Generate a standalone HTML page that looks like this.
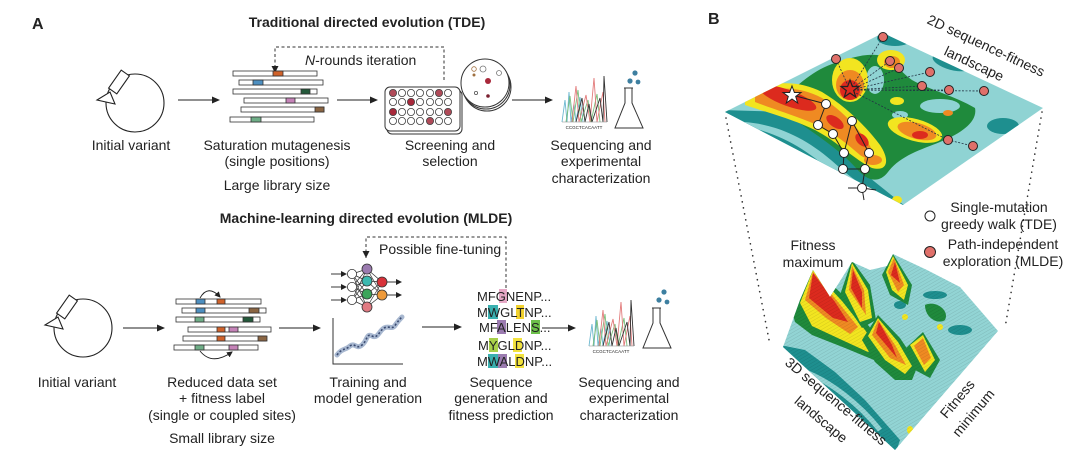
<!DOCTYPE html>
<html><head><meta charset="utf-8"><style>
html,body{margin:0;padding:0;background:#fff;}
svg{display:block;}
text{font-family:"Liberation Sans",Arial,sans-serif;fill:#222;}
</style></head><body>
<svg width="1080" height="459" viewBox="0 0 1080 459" xmlns="http://www.w3.org/2000/svg">
<defs>
<marker id="ah" markerWidth="8" markerHeight="8" refX="7" refY="4" orient="auto" markerUnits="userSpaceOnUse"><path d="M0,0.5 L8,4 L0,7.5 z" fill="#222"/></marker>
<marker id="sa" markerWidth="6" markerHeight="6" refX="5" refY="3" orient="auto" markerUnits="userSpaceOnUse"><path d="M0,0 L6,3 L0,6 z" fill="#222"/></marker>
<clipPath id="map"><polygon points="725,112 883,33 1043,108 903,205"/></clipPath>
<clipPath id="land"><polygon points="783,347 800,300 813,270 830,297 852,262 870,270 887,266 893,254 927,270 960,287 998,331 895,450"/></clipPath>
<pattern id="str" width="4" height="3" patternUnits="userSpaceOnUse" patternTransform="rotate(-30)"><line x1="0" y1="0" x2="4" y2="0" stroke="#000" stroke-opacity="0.12" stroke-width="1"/></pattern>
</defs>

<!-- ============ PANEL A ============ -->
<text x="32" y="29" font-size="16" font-weight="bold">A</text>
<text x="367" y="27" font-size="14" font-weight="bold" text-anchor="middle">Traditional directed evolution (TDE)</text>

<polyline points="275,68 275,47 444,47 444,80" fill="none" stroke="#333" stroke-width="1" stroke-dasharray="3,2.5"/>
<path d="M271.5,66 L278.5,66 L275,73 z" fill="#222"/>
<text x="305" y="65" font-size="14"><tspan font-style="italic">N</tspan>-rounds iteration</text>

<circle cx="135" cy="103" r="29" fill="none" stroke="#222" stroke-width="1.1"/>
<g transform="translate(119,82) rotate(-55)"><rect x="-11" y="-5" width="22" height="10" fill="#fff" stroke="#222" stroke-width="1.1"/></g>
<polygon points="97,100 110,92 115,104" fill="#fff" stroke="#222" stroke-width="1.1"/>
<line x1="178" y1="100" x2="219" y2="100" stroke="#222" stroke-width="1.1" marker-end="url(#ah)"/>

<g stroke="#333" stroke-width="0.8">
<rect x="233" y="71" width="84" height="5" fill="#fff"/><rect x="273" y="71" width="10" height="5" fill="#d0622a"/>
<rect x="239" y="80" width="84" height="5" fill="#fff"/><rect x="253" y="80" width="10" height="5" fill="#4d8fc0"/>
<rect x="233" y="89" width="84" height="5" fill="#fff"/><rect x="301" y="89" width="9" height="5" fill="#23583a"/>
<rect x="244" y="98" width="84" height="5" fill="#fff"/><rect x="286" y="98" width="9" height="5" fill="#c583b8"/>
<rect x="241" y="107" width="83" height="5" fill="#fff"/><rect x="315" y="107" width="9" height="5" fill="#8a6542"/>
<rect x="230" y="117" width="84" height="5" fill="#fff"/><rect x="251" y="117" width="10" height="5" fill="#6fae87"/>
</g>
<line x1="337" y1="100" x2="377" y2="100" stroke="#222" stroke-width="1.1" marker-end="url(#ah)"/>

<rect x="387" y="90" width="75" height="44" rx="5" fill="#fff" stroke="#333" stroke-width="1"/>
<rect x="385" y="87" width="75" height="44" rx="5" fill="#fff" stroke="#333" stroke-width="1"/>
<g stroke="#444" stroke-width="0.8">
<circle cx="393" cy="93" r="3.6" fill="#b04a58"/><circle cx="402" cy="93" r="3.6" fill="#fff"/><circle cx="411" cy="93" r="3.6" fill="#fff"/><circle cx="420" cy="93" r="3.6" fill="#fff"/><circle cx="430" cy="93" r="3.6" fill="#fff"/><circle cx="439" cy="93" r="3.6" fill="#b04a58"/><circle cx="448" cy="93" r="3.6" fill="#fff"/>
<circle cx="393" cy="102" r="3.6" fill="#fff"/><circle cx="402" cy="102" r="3.6" fill="#fff"/><circle cx="411" cy="102" r="3.6" fill="#a8283a"/><circle cx="420" cy="102" r="3.6" fill="#fff"/><circle cx="430" cy="102" r="3.6" fill="#fff"/><circle cx="439" cy="102" r="3.6" fill="#fff"/><circle cx="448" cy="102" r="3.6" fill="#fff"/>
<circle cx="393" cy="112" r="3.6" fill="#a8283a"/><circle cx="402" cy="112" r="3.6" fill="#fff"/><circle cx="411" cy="112" r="3.6" fill="#fff"/><circle cx="420" cy="112" r="3.6" fill="#fff"/><circle cx="430" cy="112" r="3.6" fill="#fff"/><circle cx="439" cy="112" r="3.6" fill="#fff"/><circle cx="448" cy="112" r="3.6" fill="#b04a58"/>
<circle cx="393" cy="121" r="3.6" fill="#fff"/><circle cx="402" cy="121" r="3.6" fill="#fff"/><circle cx="411" cy="121" r="3.6" fill="#fff"/><circle cx="420" cy="121" r="3.6" fill="#fff"/><circle cx="430" cy="121" r="3.6" fill="#b04a58"/><circle cx="439" cy="121" r="3.6" fill="#fff"/><circle cx="448" cy="121" r="3.6" fill="#fff"/>
</g>
<circle cx="487" cy="87" r="24" fill="#fff" stroke="#333" stroke-width="1"/>
<circle cx="486" cy="85" r="24" fill="#fff" stroke="#333" stroke-width="1"/>
<circle cx="485" cy="83" r="24" fill="#fff" stroke="#333" stroke-width="1"/>
<g stroke-width="0.8"><circle cx="474" cy="69" r="2.3" fill="none" stroke="#a07040"/><circle cx="483" cy="69" r="3" fill="none" stroke="#777"/><circle cx="474" cy="75" r="1.5" fill="#a07040"/><circle cx="499" cy="73" r="2.5" fill="none" stroke="#777"/><circle cx="488" cy="81" r="3" fill="#a8283a"/><circle cx="476" cy="93" r="1.6" fill="none" stroke="#555"/><circle cx="488" cy="96" r="1.8" fill="#7a2030"/></g>
<line x1="512" y1="100" x2="552" y2="100" stroke="#222" stroke-width="1.1" marker-end="url(#ah)"/>

<g fill="none" stroke-width="0.9">
<polyline stroke="#6ab7cf" points="562,122 565,100 567,122 569,92 571,122 574,104 576,122 580,97 583,122"/>
<polyline stroke="#7bbf7b" points="566,122 570,96 573,122 578,90 581,122 588,100 591,122 597,94 600,122"/>
<polyline stroke="#e27b7b" points="572,122 576,86 579,122 586,95 590,122 594,78 597,122 603,92 605,122"/>
<polyline stroke="#333" points="576,122 582,98 585,122 589,104 592,122 600,98 603,122 604,76 607,122"/>
<line x1="562" y1="122" x2="607" y2="122" stroke="#888" stroke-width="0.6"/>
</g>
<text x="584" y="129" font-size="4.5" text-anchor="middle" fill="#555">CCGCTCACAATT</text>
<path d="M624,88 L633,88 M625,88 L625,103 L615,128 L643,128 L632,103 L632,88" fill="none" stroke="#333" stroke-width="1"/>
<circle cx="635" cy="73" r="2.6" fill="#3d7fa0"/><circle cx="630" cy="81" r="2.6" fill="#3d7fa0"/><circle cx="638" cy="82" r="2.4" fill="#3d7fa0"/>

<g font-size="14" text-anchor="middle">
<text x="131" y="150">Initial variant</text>
<text x="277" y="150">Saturation mutagenesis</text>
<text x="277" y="166">(single positions)</text>
<text x="277" y="190">Large library size</text>
<text x="450" y="150">Screening and</text>
<text x="450" y="166">selection</text>
<text x="601" y="150">Sequencing and</text>
<text x="601" y="166">experimental</text>
<text x="601" y="183">characterization</text>
</g>

<!-- ===== MLDE ===== -->
<text x="366" y="223" font-size="14" font-weight="bold" text-anchor="middle">Machine-learning directed evolution (MLDE)</text>
<polyline points="366,258 366,237 506,237 506,290" fill="none" stroke="#333" stroke-width="1" stroke-dasharray="3,2.5"/>
<path d="M362.5,251 L369.5,251 L366,258 z" fill="#222"/>
<text x="379" y="254" font-size="14">Possible fine-tuning</text>

<circle cx="83" cy="328" r="29" fill="none" stroke="#222" stroke-width="1.1"/>
<g transform="translate(67,307) rotate(-55)"><rect x="-11" y="-5" width="22" height="10" fill="#fff" stroke="#222" stroke-width="1.1"/></g>
<polygon points="45,325 58,317 63,329" fill="#fff" stroke="#222" stroke-width="1.1"/>
<line x1="123" y1="328" x2="164" y2="328" stroke="#222" stroke-width="1.1" marker-end="url(#ah)"/>

<g stroke="#333" stroke-width="0.8">
<rect x="176" y="299" width="85" height="5" fill="#fff"/><rect x="196" y="299" width="9" height="5" fill="#4d8fc0"/><rect x="217" y="299" width="8" height="5" fill="#d0622a"/>
<rect x="182" y="308" width="84" height="5" fill="#fff"/><rect x="196" y="308" width="9" height="5" fill="#4d8fc0"/><rect x="249" y="308" width="10" height="5" fill="#8a6542"/>
<rect x="176" y="317" width="84" height="5" fill="#fff"/><rect x="195" y="317" width="9" height="5" fill="#6fae87"/><rect x="243" y="317" width="10" height="5" fill="#23583a"/>
<rect x="188" y="327" width="83" height="5" fill="#fff"/><rect x="217" y="327" width="8" height="5" fill="#d0622a"/><rect x="229" y="327" width="9" height="5" fill="#c583b8"/>
<rect x="183" y="336" width="83" height="5" fill="#fff"/><rect x="217" y="336" width="8" height="5" fill="#d0622a"/><rect x="258" y="336" width="9" height="5" fill="#8a6542"/>
<rect x="174" y="345" width="84" height="5" fill="#fff"/><rect x="195" y="345" width="9" height="5" fill="#6fae87"/><rect x="229" y="345" width="9" height="5" fill="#c583b8"/>
</g>
<path d="M200,298 Q208,284 220,297" fill="none" stroke="#222" stroke-width="0.9" marker-end="url(#sa)"/>
<path d="M200,351 Q212,366 232,352" fill="none" stroke="#222" stroke-width="0.9" marker-end="url(#sa)"/>
<line x1="279" y1="328" x2="320" y2="328" stroke="#222" stroke-width="1.1" marker-end="url(#ah)"/>

<g stroke="#333" stroke-width="0.7" fill="none">
<path d="M352,274 L367,269 M352,274 L367,281 M352,274 L367,294 M352,274 L367,307 M352,287 L367,269 M352,287 L367,281 M352,287 L367,294 M352,287 L367,307 M352,300 L367,269 M352,300 L367,281 M352,300 L367,294 M352,300 L367,307 M367,269 L382,282 M367,269 L382,295 M367,281 L382,282 M367,281 L382,295 M367,294 L382,282 M367,294 L382,295 M367,307 L382,282 M367,307 L382,295"/>
</g>
<line x1="331" y1="274" x2="346" y2="274" stroke="#222" stroke-width="0.9" marker-end="url(#sa)"/>
<line x1="331" y1="287" x2="346" y2="287" stroke="#222" stroke-width="0.9" marker-end="url(#sa)"/>
<line x1="331" y1="300" x2="346" y2="300" stroke="#222" stroke-width="0.9" marker-end="url(#sa)"/>
<line x1="387" y1="282" x2="401" y2="282" stroke="#222" stroke-width="0.9" marker-end="url(#sa)"/>
<line x1="387" y1="295" x2="401" y2="295" stroke="#222" stroke-width="0.9" marker-end="url(#sa)"/>
<g stroke="#333" stroke-width="0.8">
<circle cx="352" cy="274" r="4.6" fill="#fff"/><circle cx="352" cy="287" r="4.6" fill="#fff"/><circle cx="352" cy="300" r="4.6" fill="#fff"/>
<circle cx="367" cy="269" r="5" fill="#9b7bb0"/><circle cx="367" cy="281" r="5" fill="#3cb9b0"/><circle cx="367" cy="294" r="5" fill="#3ca55a"/><circle cx="367" cy="307" r="5" fill="#e07a82"/>
<circle cx="382" cy="282" r="5" fill="#d8323a"/><circle cx="382" cy="295" r="5" fill="#ee9a3a"/>
</g>
<polyline points="333,318 333,364 403,364" fill="none" stroke="#333" stroke-width="1"/>
<path d="M337,355 C342,348 346,350 350,346 C355,342 356,350 362,345 C368,340 366,333 372,336 C378,339 379,331 384,328 C390,325 392,331 396,324 C399,320 400,319 402,317" fill="none" stroke="#a8b8d0" stroke-width="5" stroke-linecap="round"/>
<path d="M337,355 C342,348 346,350 350,346 C355,342 356,350 362,345 C368,340 366,333 372,336 C378,339 379,331 384,328 C390,325 392,331 396,324 C399,320 400,319 402,317" fill="none" stroke="#3a4a70" stroke-width="1.6" stroke-dasharray="2,2"/>
<line x1="422" y1="327" x2="461" y2="327" stroke="#222" stroke-width="1.1" marker-end="url(#ah)"/>

<g>
<rect x="499" y="289" width="8" height="14" fill="#e6a8c6"/>
<rect x="488" y="305" width="10" height="14" fill="#3ab0b0"/><rect x="516" y="305" width="8" height="14" fill="#f2d22e"/>
<rect x="497" y="320" width="9" height="14" fill="#9b7bb0"/><rect x="531" y="320" width="9" height="14" fill="#6cbf4a"/>
<rect x="489" y="338" width="9" height="14" fill="#a8d04a"/><rect x="513" y="338" width="9" height="14" fill="#f2e23e"/>
<rect x="488" y="354" width="10" height="14" fill="#3ab0b0"/><rect x="498" y="354" width="9" height="14" fill="#9b7bb0"/><rect x="515" y="354" width="9" height="14" fill="#f2e23e"/>
</g>
<g font-size="13">
<text x="477" y="301">MFGNENP...</text>
<text x="477" y="317">MWGLTNP...</text>
<text x="479" y="332">MFALENS...</text>
<text x="478" y="350">MYGLDNP...</text>
<text x="477" y="366">MWALDNP...</text>
</g>
<line x1="542" y1="328" x2="575" y2="328" stroke="#222" stroke-width="1.1" marker-end="url(#ah)"/>

<g transform="translate(27,224)">
<polyline fill="none" stroke-width="0.9" stroke="#6ab7cf" points="562,122 565,100 567,122 569,92 571,122 574,104 576,122 580,97 583,122"/>
<polyline fill="none" stroke-width="0.9" stroke="#7bbf7b" points="566,122 570,96 573,122 578,90 581,122 588,100 591,122 597,94 600,122"/>
<polyline fill="none" stroke-width="0.9" stroke="#e27b7b" points="572,122 576,86 579,122 586,95 590,122 594,78 597,122 603,92 605,122"/>
<polyline fill="none" stroke-width="0.9" stroke="#333" points="576,122 582,98 585,122 589,104 592,122 600,98 603,122 604,76 607,122"/>
<line x1="562" y1="122" x2="607" y2="122" stroke="#888" stroke-width="0.6"/>
<text x="584" y="129" font-size="4.5" text-anchor="middle" fill="#555">CCGCTCACAATT</text>
<path d="M624,88 L633,88 M625,88 L625,103 L615,128 L643,128 L632,103 L632,88" fill="none" stroke="#333" stroke-width="1" transform="translate(1,-4)"/>
</g>
<circle cx="664" cy="292" r="2.6" fill="#3d7fa0"/><circle cx="659" cy="300" r="2.6" fill="#3d7fa0"/><circle cx="667" cy="302" r="2.4" fill="#3d7fa0"/>

<g font-size="14" text-anchor="middle">
<text x="77" y="387">Initial variant</text>
<text x="222" y="387">Reduced data set</text>
<text x="222" y="403">+ fitness label</text>
<text x="222" y="420">(single or coupled sites)</text>
<text x="222" y="443">Small library size</text>
<text x="368" y="387">Training and</text>
<text x="368" y="403">model generation</text>
<text x="501" y="387">Sequence</text>
<text x="501" y="403">generation and</text>
<text x="501" y="420">fitness prediction</text>
<text x="629" y="387">Sequencing and</text>
<text x="629" y="403">experimental</text>
<text x="629" y="420">characterization</text>
</g>

<!-- ============ PANEL B ============ -->
<text x="708" y="24" font-size="16" font-weight="bold">B</text>

<line x1="726" y1="118" x2="770" y2="345" stroke="#333" stroke-width="1.6" stroke-dasharray="0.1,6" stroke-linecap="round"/>
<line x1="1042" y1="112" x2="1005" y2="328" stroke="#333" stroke-width="1.6" stroke-dasharray="0.1,6" stroke-linecap="round"/>

<g clip-path="url(#map)">
<rect x="720" y="30" width="330" height="180" fill="#8fd3d3"/>
<polygon points="720,110 790,112 812,122 835,145 860,170 885,190 910,210 720,210" fill="#1e8f8f"/>
<path d="M745,122 C780,125 810,140 840,168 C860,185 880,198 900,205 L905,210 C880,205 855,190 835,175 C810,152 785,135 745,126 z" fill="#8fd3d3"/>
<polygon points="903,210 925,190 960,168 1000,152 1030,125 1050,108 1050,210" fill="#1e8f8f"/>
<ellipse cx="895" cy="38" rx="18" ry="8" fill="#1e8f8f"/>
<ellipse cx="952" cy="62" rx="20" ry="8" transform="rotate(15 952 62)" fill="#1e8f8f"/>
<ellipse cx="1003" cy="126" rx="16" ry="8" fill="#1e8f8f"/>
<!-- green region (reduced) -->
<path d="M775,105 C795,88 810,72 832,64 C850,58 868,52 882,56 C896,62 900,72 912,80 C930,90 955,96 975,108 C978,122 960,134 940,142 C920,150 900,156 888,172 C878,185 866,180 856,168 C840,150 818,136 798,122 z" fill="#1f8a3c"/>
<ellipse cx="875" cy="80" rx="9" ry="14" fill="#8fd3d3"/>
<ellipse cx="940" cy="106" rx="20" ry="7" fill="#8fd3d3"/>
<ellipse cx="900" cy="115" rx="8" ry="4" fill="#8fd3d3"/>
<ellipse cx="863" cy="140" rx="10" ry="7" transform="rotate(30 863 140)" fill="#1e8f8f" stroke="#8fd3d3" stroke-width="2"/>
<path d="M745,95 C765,82 795,78 822,92 C845,106 865,125 880,145 C890,160 888,172 872,168 C855,160 838,142 815,130 C790,118 765,112 745,105 z" fill="#f2e520"/>
<path d="M755,95 C775,86 800,86 822,98 C842,110 858,128 870,146 C876,158 870,162 860,155 C845,142 830,130 810,122 C790,114 770,108 755,102 z" fill="#ef8a22"/>
<ellipse cx="788" cy="98" rx="30" ry="8" transform="rotate(20 788 98)" fill="#dc2a1e"/>
<ellipse cx="835" cy="122" rx="10" ry="5" transform="rotate(35 835 122)" fill="#dc2a1e"/>
<ellipse cx="862" cy="140" rx="8" ry="5" transform="rotate(45 862 140)" fill="#dc2a1e"/>
<ellipse cx="850" cy="80" rx="18" ry="22" fill="#f2e520"/>
<ellipse cx="850" cy="85" rx="14" ry="15" fill="#ef8a22"/>
<circle cx="850" cy="90" r="10" fill="#dc2a1e"/>
<ellipse cx="891" cy="60" rx="14" ry="10" fill="#f2e520"/>
<ellipse cx="892" cy="62" rx="8" ry="6" fill="#ef8a22"/>
<ellipse cx="915" cy="130" rx="28" ry="11" transform="rotate(15 915 130)" fill="#f2e520"/>
<ellipse cx="917" cy="131" rx="20" ry="8" transform="rotate(15 917 131)" fill="#ef8a22"/>
<ellipse cx="920" cy="135" rx="8" ry="4" fill="#dc2a1e"/>
<ellipse cx="897" cy="101" rx="7" ry="4" fill="#f2e520"/>
<ellipse cx="948" cy="113" rx="5" ry="3" fill="#ef8a22"/>
<ellipse cx="897" cy="200" rx="5" ry="4" fill="#f2e520"/>
<ellipse cx="873" cy="160" rx="9" ry="5" fill="#ef8a22"/>
</g>
<g stroke="#234" stroke-width="0.8" stroke-dasharray="2,1.5" fill="none">
<line x1="850" y1="90" x2="883" y2="37"/><line x1="850" y1="90" x2="836" y2="59"/><line x1="850" y1="90" x2="890" y2="61"/><line x1="850" y1="90" x2="899" y2="68"/><line x1="850" y1="90" x2="930" y2="72"/><line x1="850" y1="90" x2="922" y2="86"/><line x1="850" y1="90" x2="949" y2="90"/><line x1="850" y1="90" x2="984" y2="91"/><line x1="850" y1="90" x2="948" y2="140"/><line x1="948" y1="140" x2="973" y2="146"/>
</g>
<g stroke="#222" stroke-width="1" fill="none">
<polyline points="862,188 865,169 843,169 844,153 833,134 818,125 826,104 792,95"/>
<polyline points="844,153 852,121 869,153 865,169"/>
<line x1="862" y1="188" x2="848" y2="188"/><line x1="862" y1="188" x2="876" y2="190"/><line x1="862" y1="188" x2="864" y2="200"/>
</g>
<g fill="#e0706a" stroke="#222" stroke-width="1">
<circle cx="883" cy="37" r="4.5"/><circle cx="836" cy="59" r="4.5"/><circle cx="890" cy="61" r="4.5"/><circle cx="899" cy="68" r="4.5"/><circle cx="930" cy="72" r="4.5"/><circle cx="922" cy="86" r="4.5"/><circle cx="949" cy="90" r="4.5"/><circle cx="984" cy="91" r="4.5"/><circle cx="948" cy="140" r="4.5"/><circle cx="973" cy="146" r="4.5"/>
</g>
<g fill="#fff" stroke="#222" stroke-width="1">
<circle cx="826" cy="104" r="4.5"/><circle cx="852" cy="121" r="4.5"/><circle cx="818" cy="125" r="4.5"/><circle cx="833" cy="134" r="4.5"/><circle cx="844" cy="153" r="4.5"/><circle cx="869" cy="153" r="4.5"/><circle cx="843" cy="169" r="4.5"/><circle cx="865" cy="169" r="4.5"/><circle cx="862" cy="188" r="4.5"/>
</g>
<polygon points="792,86 794.4,92.5 801,92.5 795.7,96.5 797.7,103 792,99 786.3,103 788.3,96.5 783,92.5 789.6,92.5" fill="#fff" stroke="#222" stroke-width="1"/>
<polygon points="850,80 852.4,86.5 859,86.5 853.7,90.5 855.7,97 850,93 844.3,97 846.3,90.5 841,86.5 847.6,86.5" fill="#dc2a1e" stroke="#222" stroke-width="1.2"/>

<g font-size="14">
<text transform="translate(984,50) rotate(25)" text-anchor="middle">2D sequence-fitness</text>
<text transform="translate(972,68) rotate(25)" text-anchor="middle">landscape</text>
</g>

<circle cx="930" cy="216" r="5" fill="#fff" stroke="#222" stroke-width="1"/>
<circle cx="930" cy="252" r="5.5" fill="#e0706a" stroke="#222" stroke-width="1"/>
<g font-size="14" text-anchor="middle">
<text x="999" y="212">Single-mutation</text>
<text x="999" y="229">greedy walk (TDE)</text>
<text x="1003" y="249">Path-independent</text>
<text x="1003" y="266">exploration (MLDE)</text>
<text x="813" y="250">Fitness</text>
<text x="813" y="267">maximum</text>
</g>

<!-- 3D landscape -->
<g clip-path="url(#land)">
<rect x="780" y="250" width="225" height="205" fill="#92d4d4"/>
<polygon points="780,345 805,350 835,372 865,400 900,440 895,455 780,455" fill="#1e8f8f"/>
<path d="M800,370 C830,380 860,405 880,430" stroke="#92d4d4" stroke-width="5" fill="none"/>
<polygon points="895,455 915,430 945,405 975,375 1005,335 1005,455" fill="#1e8f8f"/>
<path d="M930,420 C950,400 975,380 1000,345" stroke="#92d4d4" stroke-width="6" fill="none"/>
<ellipse cx="960" cy="330" rx="12" ry="5" fill="#1e8f8f"/>
<ellipse cx="935" cy="295" rx="12" ry="4" fill="#1e8f8f"/>
<ellipse cx="900" cy="305" rx="6" ry="4" fill="#1e8f8f"/>
<!-- ridge 1 -->
<path d="M790,305 L813,266 L848,300 L872,330 L886,352 L874,360 L845,348 L812,335 L795,322 z" fill="#1f8a3c"/>
<path d="M800,303 L813,270 L842,301 L865,330 L878,348 L868,352 L842,340 L812,326 z" fill="#f2e520"/>
<path d="M805,300 L813,272 L838,302 L858,327 L850,334 L826,318 z" fill="#ef8a22"/>
<path d="M809,298 L813,273 L835,302 L848,322 L833,318 z" fill="#dc2a1e"/>
<!-- ridge 2 -->
<path d="M840,295 L852,260 L870,285 L876,320 L862,328 z" fill="#1f8a3c"/>
<path d="M845,292 L852,263 L868,290 L872,318 L860,322 z" fill="#f2e520"/>
<path d="M849,290 L852,266 L864,290 L866,315 z" fill="#ef8a22"/>
<path d="M851,288 L853,270 L862,292 L862,308 z" fill="#dc2a1e"/>
<!-- middle peak -->
<path d="M862,340 L878,315 L900,338 L918,365 L912,380 L895,380 L875,362 z" fill="#1f8a3c"/>
<path d="M868,336 L878,318 L898,342 L912,366 L905,374 L885,360 z" fill="#f2e520"/>
<path d="M872,335 L878,320 L895,345 L906,365 L890,358 z" fill="#ef8a22"/>
<path d="M876,333 L879,322 L892,345 L897,358 z" fill="#dc2a1e"/>
<!-- back peak -->
<path d="M882,275 L893,254 L912,285 L908,305 L890,295 z" fill="#1f8a3c"/>
<path d="M886,272 L893,256 L908,285 L904,300 L892,290 z" fill="#f2e520"/>
<path d="M888,272 L894,258 L904,285 L898,292 z" fill="#ef8a22"/>
<path d="M891,275 L895,262 L900,283 z" fill="#dc2a1e"/>
<!-- right small -->
<path d="M906,348 L923,332 L940,360 L930,378 L915,370 z" fill="#1f8a3c"/>
<path d="M910,345 L923,335 L935,360 L925,372 z" fill="#f2e520"/>
<path d="M914,346 L923,338 L931,358 L924,365 z" fill="#ef8a22"/>
<path d="M925,305 C935,300 950,310 945,320 C938,325 925,318 925,305 z" fill="#1f8a3c"/>
<ellipse cx="905" cy="317" rx="3" ry="3" fill="#f2e520"/><ellipse cx="940" cy="327" rx="3" ry="3" fill="#f2e520"/><ellipse cx="910" cy="430" rx="3" ry="4" fill="#f2e520"/>
<rect x="780" y="250" width="225" height="205" fill="url(#str)"/>
</g>

<g font-size="14" text-anchor="middle">
<text transform="translate(833,405) rotate(40)">3D sequence-fitness</text>
<text transform="translate(818,423) rotate(40)">landscape</text>
<text transform="translate(961,402) rotate(-50)">Fitness</text>
<text transform="translate(977,416) rotate(-50)">minimum</text>
</g>
</svg>
</body></html>
